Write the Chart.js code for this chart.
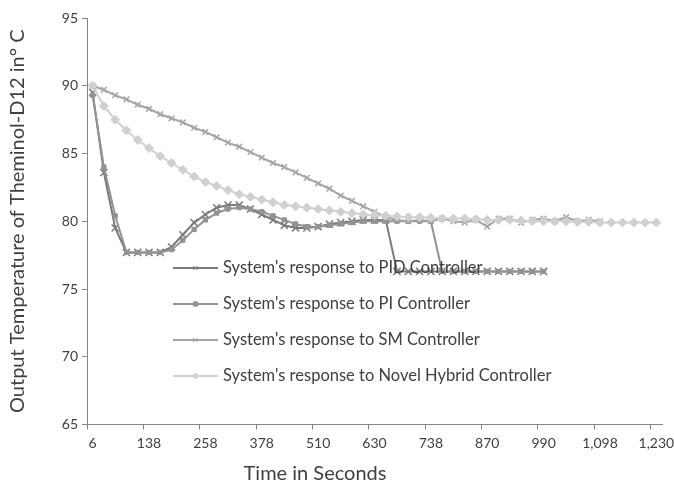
<!DOCTYPE html>
<html>
<head>
<meta charset="utf-8">
<script src="https://cdn.jsdelivr.net/npm/chart.js@4.4.1/dist/chart.umd.min.js"></script>
<style>
    html, body { margin: 0; padding: 0; background: #fff; }
    #wrap { width: 674px; height: 488px; overflow: hidden; }
    canvas { display: block; }
</style>
</head>
<body>
<div id="wrap"><canvas id="tempChart" width="692" height="488" style="width:692px;height:488px"></canvas></div>
<script>
// Tick labels on the time axis (one every 5 samples)
const tickLabels = ['6', '138', '258', '378', '510', '630', '738', '870', '990', '1,098', '1,230'];
const samplesPerTick = 5;

// Output temperature readings, one per sample
const pidResponse = [89.5, 83.6, 79.5, 77.7, 77.7, 77.7, 77.7, 78.1, 79.0, 79.9,
    80.5, 81.0, 81.2, 81.2, 80.9, 80.5, 80.1, 79.7, 79.5, 79.5,
    79.6, 79.8, 79.9, 80.0, 80.1, 80.1, 80.1, 76.3, 76.3, 76.3,
    76.3, 76.3, 76.3, 76.3, 76.3, 76.3, 76.3, 76.3, 76.3, 76.3, 76.3];
const piResponse = [89.3, 84.0, 80.4, 77.7, 77.7, 77.7, 77.7, 77.9, 78.6, 79.4,
    80.1, 80.6, 80.9, 81.0, 80.9, 80.7, 80.4, 80.1, 79.8, 79.6,
    79.6, 79.7, 79.8, 79.9, 80.0, 80.0, 80.0, 80.0, 80.0, 80.0,
    80.0, 76.3, 76.3, 76.3, 76.3, 76.3, 76.3, 76.3, 76.3, 76.3, 76.3];
const smResponse = [90.0, 89.7, 89.3, 89.0, 88.6, 88.3, 87.9, 87.6, 87.3, 86.9,
    86.6, 86.2, 85.8, 85.5, 85.1, 84.7, 84.3, 84.0, 83.6, 83.2,
    82.8, 82.4, 81.9, 81.5, 81.1, 80.7, 80.3, 80.1, 80.0, 80.1,
    80.0, 80.2, 80.0, 79.9, 80.1, 79.6, 80.2, 80.2, 79.9, 80.1,
    80.2, 80.0, 80.3, 80.0, 80.1, 80.0];
const hybridResponse = [90.0, 88.5, 87.5, 86.7, 86.0, 85.4, 84.8, 84.3, 83.8, 83.3,
    82.9, 82.6, 82.3, 82.0, 81.8, 81.6, 81.4, 81.2, 81.1, 81.0,
    80.9, 80.8, 80.7, 80.6, 80.5, 80.45, 80.4, 80.35, 80.3, 80.3,
    80.25, 80.2, 80.2, 80.2, 80.15, 80.1, 80.1, 80.1, 80.05, 80.0,
    80.0, 80.0, 80.0, 79.95, 79.95, 79.9, 79.9, 79.9, 79.9, 79.9, 79.9];

// Category list: only every 5th sample carries a label
const categories = [];
for (let i = 0; i < hybridResponse.length; i++) {
    categories.push(i % samplesPerTick === 0 ? tickLabels[i / samplesPerTick] : '');
}

const FONT = 'Lato, "Open Sans", sans-serif';
const AXIS_COLOR = '#868686';
const TEXT_COLOR = '#404040';

// Legend drawn inside the plot, over the lines (like the Excel original)
const insideLegend = {
    id: 'insideLegend',
    afterDatasetsDraw(chart) {
        const ctx = chart.ctx;
        const x0 = 173, y0 = 268, rowGap = 36, lineLen = 45;
        ctx.save();
        ctx.font = '16.5px ' + FONT;
        ctx.textBaseline = 'middle';
        chart.data.datasets.forEach((ds, i) => {
            const y = y0 + i * rowGap;
            ctx.strokeStyle = ds.borderColor;
            ctx.fillStyle = ds.borderColor;
            ctx.lineWidth = 2;
            ctx.beginPath();
            ctx.moveTo(x0, y);
            ctx.lineTo(x0 + lineLen, y);
            ctx.stroke();
            ctx.lineWidth = 1;
            Chart.helpers.drawPoint(ctx, { pointStyle: ds.pointStyle, radius: 3, rotation: 0, borderWidth: 1 }, x0 + lineLen / 2, y);
            ctx.fillStyle = TEXT_COLOR;
            ctx.fillText(ds.label, x0 + lineLen + 5, y);
        });
        ctx.restore();
    },
    afterDraw(chart) {
        // x axis title, centred where Excel put it
        const ctx = chart.ctx;
        ctx.save();
        ctx.font = '20px ' + FONT;
        ctx.fillStyle = TEXT_COLOR;
        ctx.textAlign = 'center';
        ctx.textBaseline = 'middle';
        ctx.fillText('Time in Seconds', 315, 474);
        ctx.restore();
    }
};

const ctx = document.getElementById('tempChart').getContext('2d');
new Chart(ctx, {
    type: 'line',
    data: {
        labels: categories,
        datasets: [
            {
                label: "System's response to PID Controller",
                data: pidResponse,
                borderColor: '#7a7a7a',
                backgroundColor: '#7a7a7a',
                borderWidth: 2,
                pointStyle: 'crossRot',
                pointRadius: 5,
                pointBorderWidth: 1.5,
                order: 3
            },
            {
                label: "System's response to PI Controller",
                data: piResponse,
                borderColor: '#939393',
                backgroundColor: '#939393',
                borderWidth: 2,
                pointStyle: 'rect',
                pointRadius: 3,
                pointBorderWidth: 1,
                order: 2
            },
            {
                label: "System's response to SM Controller",
                data: smResponse,
                borderColor: '#a5a5a5',
                backgroundColor: '#a5a5a5',
                borderWidth: 2,
                pointStyle: 'crossRot',
                pointRadius: 4,
                pointBorderWidth: 1.5,
                order: 1
            },
            {
                label: 'System\'s response to Novel Hybrid Controller',
                data: hybridResponse,
                borderColor: '#d0d0d0',
                backgroundColor: '#d0d0d0',
                borderWidth: 2,
                pointStyle: 'rectRot',
                pointRadius: 4.5,
                pointBorderWidth: 1,
                order: 0
            }
        ]
    },
    options: {
        responsive: false,
        devicePixelRatio: 1,
        animation: false,
        layout: { padding: { top: 18, right: 30, bottom: 0, left: 0 } },
        plugins: {
            legend: { display: false },
            tooltip: { enabled: false }
        },
        scales: {
            x: {
                type: 'category',
                offset: true,
                afterFit: (scale) => { scale.height = 63.5; },
                grid: {
                    offset: true,
                    drawOnChartArea: false,
                    drawTicks: true,
                    tickLength: 5,
                    color: (c) => (c.index % samplesPerTick === 0 ? AXIS_COLOR : 'rgba(0,0,0,0)')
                },
                border: { color: AXIS_COLOR, width: 1 },
                ticks: {
                    autoSkip: false,
                    maxRotation: 0,
                    minRotation: 0,
                    padding: 6,
                    color: TEXT_COLOR,
                    font: { family: FONT, size: 14 }
                }
            },
            y: {
                min: 65,
                max: 95,
                afterFit: (scale) => { scale.width = 87; },
                grid: {
                    drawOnChartArea: false,
                    drawTicks: true,
                    tickLength: 5,
                    color: AXIS_COLOR
                },
                border: { color: AXIS_COLOR, width: 1 },
                ticks: {
                    stepSize: 5,
                    padding: 4,
                    color: TEXT_COLOR,
                    font: { family: FONT, size: 14 }
                },
                title: {
                    display: true,
                    text: 'Output Temperature of Theminol-D12 in° C',
                    color: TEXT_COLOR,
                    font: { family: FONT, size: 20 },
                    padding: { top: 6, bottom: 0 }
                }
            }
        }
    },
    plugins: [insideLegend]
});
</script>
</body>
</html>
